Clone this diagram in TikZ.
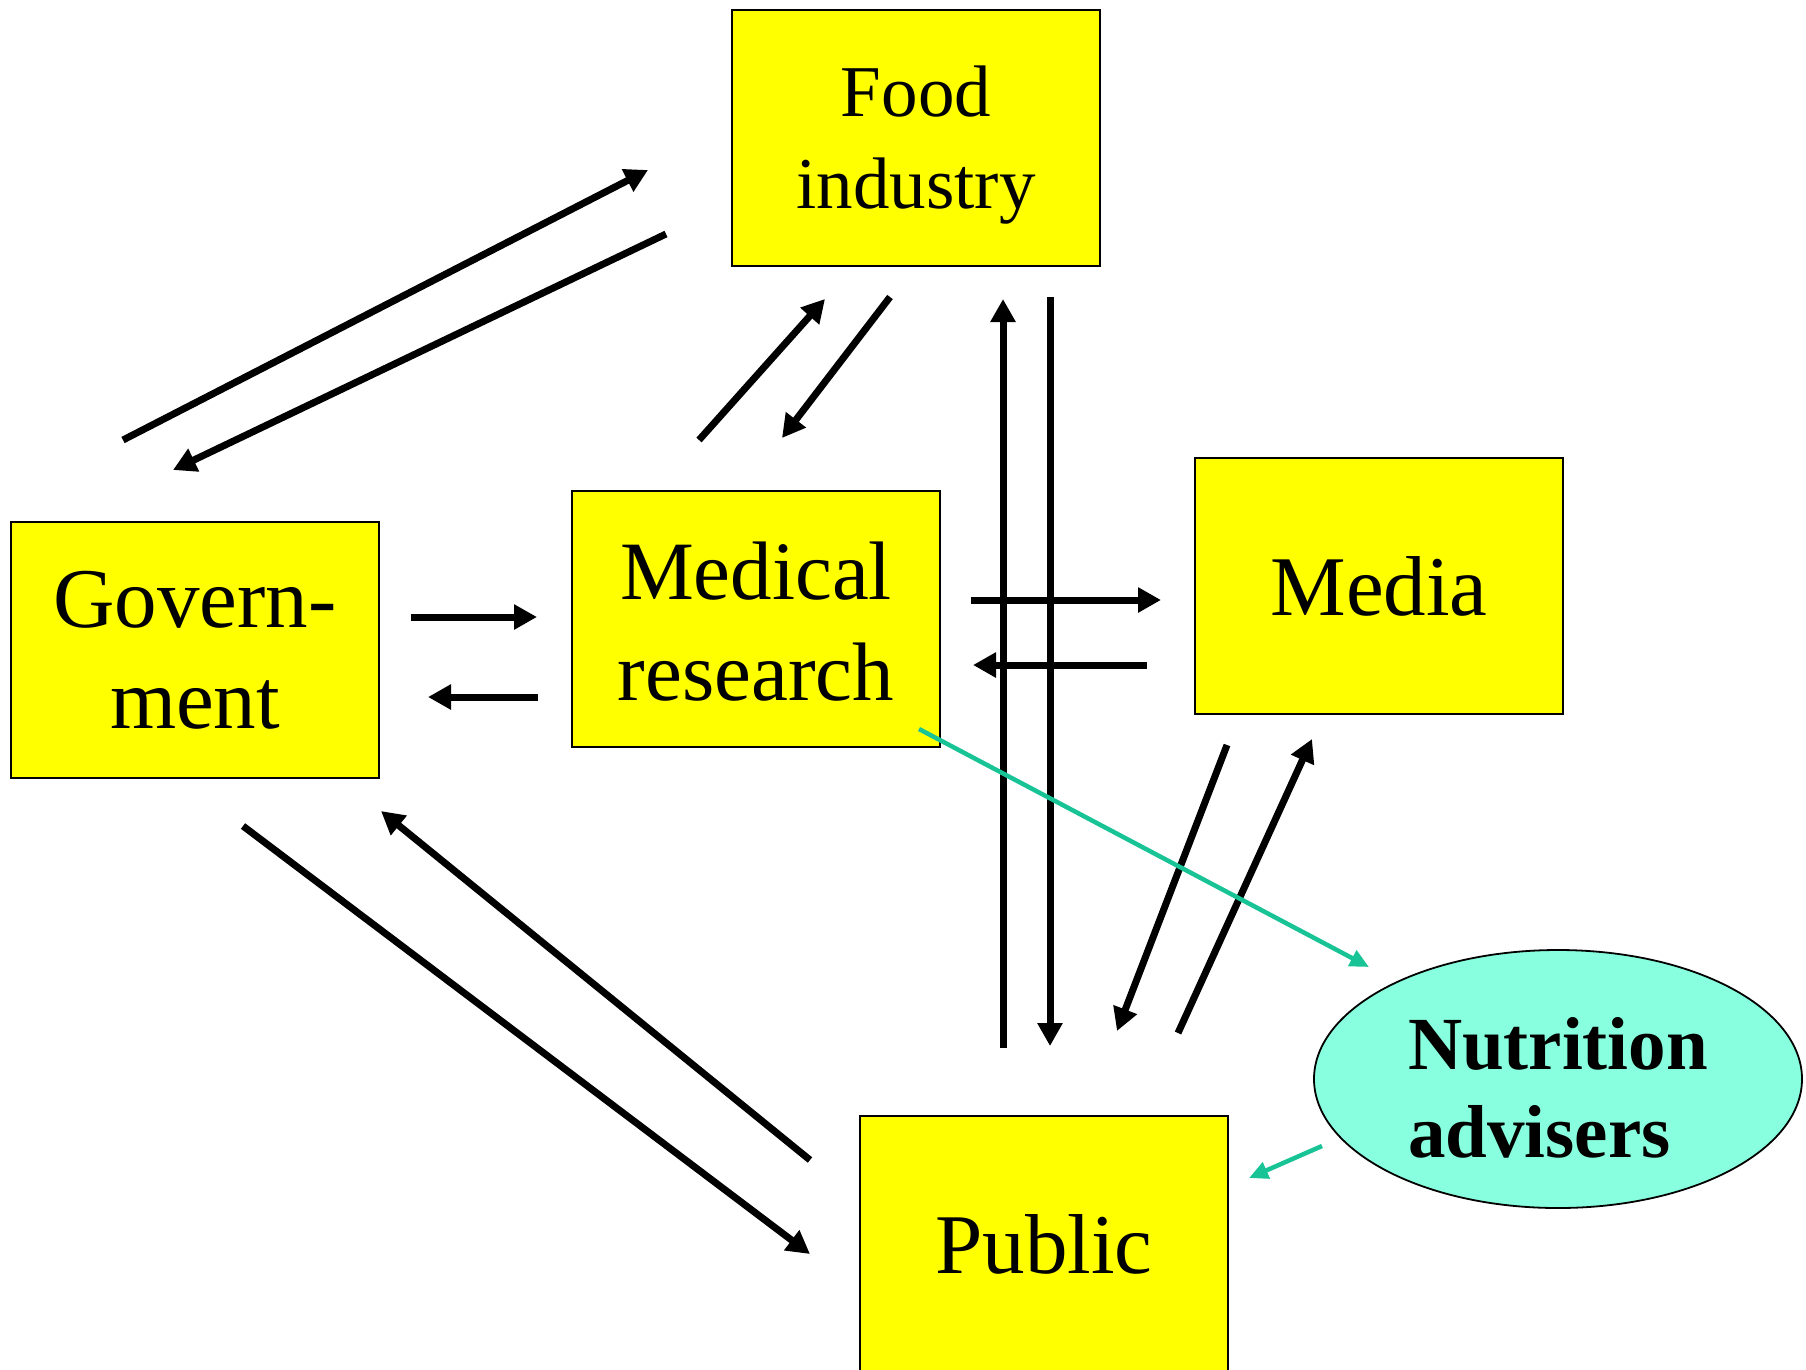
\documentclass[tikz,border=0pt]{standalone}
\usepackage{fontspec}
\setmainfont{Liberation Serif}
\usetikzlibrary{arrows.meta,shapes.geometric}
\definecolor{boxyellow}{RGB}{255,255,0}
\definecolor{aqua}{RGB}{136,255,222}
\definecolor{tealarrow}{RGB}{24,196,150}
\begin{document}
\begin{tikzpicture}[x=1pt,y=-1pt,
  box/.style={draw=black,line width=2pt,fill=boxyellow,minimum width=368pt,minimum height=256pt,inner sep=0pt,align=center,anchor=north west},
  flow/.style={line width=7pt,-{Triangle[length=23pt,width=24pt]}},
  advice/.style={draw=tealarrow,line width=4.5pt,-{Triangle[length=19pt,width=17pt]}}]
\useasboundingbox (0,0) rectangle (1806,1369);
\clip (0,0) rectangle (1806,1369);
\fill[white] (0,0) rectangle (1806,1369);

\node[box,font=\fontsize{73}{92}\selectfont] (food) at (731,9) {\rule{0pt}{64pt}Food\\industry};
\node[box,font=\fontsize{85}{101}\selectfont] (gov) at (10,521) {Govern-\\ment};
\node[box,font=\fontsize{83}{101}\selectfont] (med) at (571,490) {\rule{0pt}{62pt}Medical\\research};
\node[box,font=\fontsize{85}{101}\selectfont] (media) at (1194,457) {Media};
\node[box,font=\fontsize{85}{101}\selectfont] (pub) at (859,1115) {Public};
\node[ellipse,draw=black,line width=1.8pt,fill=aqua,minimum width=488pt,minimum height=258pt,inner sep=0pt,align=left,font=\bfseries\fontsize{75}{88}\selectfont] (nut) at (1558,1079) {\rule{0pt}{69pt}Nutrition\\advisers};

% arrow end points
\coordinate (a1s) at (123,440);  \coordinate (a1e) at (648,170);
\coordinate (a2s) at (666,234);  \coordinate (a2e) at (173,470);
\coordinate (a3s) at (699,440);  \coordinate (a3e) at (825,299);
\coordinate (a4s) at (890,297);  \coordinate (a4e) at (782,438);
\coordinate (a5s) at (1003,1048); \coordinate (a5e) at (1003,299);
\coordinate (a6s) at (1050,297); \coordinate (a6e) at (1050,1046);
\coordinate (a7s) at (971,600);  \coordinate (a7e) at (1161,600);
\coordinate (a8s) at (1147,665); \coordinate (a8e) at (973,665);
\coordinate (a9s) at (411,617);  \coordinate (a9e) at (537,617);
\coordinate (a10s) at (538,697); \coordinate (a10e) at (428,697);
\coordinate (a11s) at (1227,745); \coordinate (a11e) at (1117,1031);
\coordinate (a12s) at (1178,1033); \coordinate (a12e) at (1312,739);
\coordinate (a13s) at (243,826); \coordinate (a13e) at (810,1254);
\coordinate (a14s) at (810,1160); \coordinate (a14e) at (381,811);
\coordinate (t1s) at (919,729);  \coordinate (t1e) at (1369,967);
\coordinate (t2s) at (1322,1146); \coordinate (t2e) at (1249,1178);

\draw[flow] (a1s) -- (a1e);
\draw[flow] (a2s) -- (a2e);
\draw[flow] (a3s) -- (a3e);
\draw[flow] (a4s) -- (a4e);
\draw[flow] (a5s) -- (a5e);
\draw[flow] (a6s) -- (a6e);
\draw[flow] (a7s) -- (a7e);
\draw[flow] (a8s) -- (a8e);
\draw[flow] (a9s) -- (a9e);
\draw[flow] (a10s) -- (a10e);
\draw[flow] (a11s) -- (a11e);
\draw[flow] (a12s) -- (a12e);
\draw[flow] (a13s) -- (a13e);
\draw[flow] (a14s) -- (a14e);
\draw[advice] (t1s) -- (t1e);
\draw[advice] (t2s) -- (t2e);
\end{tikzpicture}
\end{document}
